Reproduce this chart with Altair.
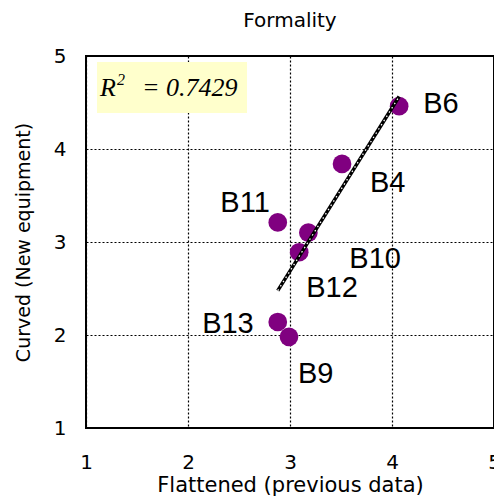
import altair as alt
import pandas as pd

names = ["B6", "B4", "B11", "B10", "B12", "B13", "B9"]
flattened = [4.07, 3.51, 2.88, 3.18, 3.09, 2.88, 2.99]
curved = [4.46, 3.84, 3.21, 3.10, 2.89, 2.14, 1.98]
r2_value = "= 0.7429"

df = pd.DataFrame({"name": names, "x": flattened, "y": curved})

FONT = "DejaVu Sans"
LFONT = "Liberation Sans"
SERIF = "Liberation Serif"
xs = alt.Scale(domain=[1, 5], nice=False, zero=False)
ys = alt.Scale(domain=[1, 5], nice=False, zero=False)

common_axis = dict(values=[1, 2, 3, 4, 5], format="d", grid=True, gridDash=[2, 2],
                   gridColor="black", gridOpacity=1, gridWidth=1.2,
                   ticks=False, domain=False,
                   labelFontSize=20, labelFont=FONT,
                   titleFont=FONT, titleFontWeight="normal",
                   labelColor="black", titleColor="black", labelFlush=False)

xenc = alt.X("x:Q", scale=xs, title="Flattened (previous data)",
             axis=alt.Axis(labelPadding=24, titlePadding=2, titleFontSize=21, **common_axis))
yenc = alt.Y("y:Q", scale=ys, title="Curved (New equipment)",
             axis=alt.Axis(labelPadding=20, titlePadding=20, titleFontSize=19, **common_axis))

base = alt.Chart(df)
one = lambda c: c.transform_filter(alt.datum.name == "B6")

box = one(base.mark_rect(color="#FFFFCC").encode(
    x=alt.value(11), x2=alt.value(161), y=alt.value(6), y2=alt.value(57)))

r_txt = one(base.mark_text(font=SERIF, fontStyle="italic", fontSize=26,
                           align="left", baseline="alphabetic", color="black").encode(
    x=alt.value(14), y=alt.value(40), text=alt.value("R")))
sup_txt = one(base.mark_text(font=SERIF, fontStyle="italic", fontSize=16,
                             align="left", baseline="alphabetic", color="black").encode(
    x=alt.value(31), y=alt.value(29), text=alt.value("2")))
val_txt = one(base.mark_text(font=SERIF, fontStyle="italic", fontSize=26,
                             align="left", baseline="alphabetic", color="black").encode(
    x=alt.value(56), y=alt.value(40), text=alt.value(r2_value)))

fit_black = base.mark_line(color="black", strokeWidth=3.5).encode(
    x=alt.X("x:Q", scale=xs), y=alt.Y("y:Q", scale=ys)
).transform_regression("x", "y")
fit_white = base.mark_line(color="white", strokeWidth=1.3, strokeDash=[1.5, 3.5]).encode(
    x=alt.X("x:Q", scale=xs), y=alt.Y("y:Q", scale=ys)
).transform_regression("x", "y")

points = base.mark_circle(size=350, color="#800080", opacity=1).encode(x=xenc, y=yenc)

offsets = {
    "B6": (24, -2, "left"),
    "B4": (28, 19, "left"),
    "B11": (-8, -19, "right"),
    "B10": (41, 26, "left"),
    "B12": (7, 36, "left"),
    "B13": (-24, 2, "right"),
    "B9": (9, 37, "left"),
}
labels = []
for n, (dx, dy, al) in offsets.items():
    labels.append(
        base.mark_text(font=LFONT, fontSize=29, dx=dx, dy=dy, align=al,
                       baseline="middle", color="black").encode(
            x=alt.X("x:Q", scale=xs), y=alt.Y("y:Q", scale=ys), text="name:N"
        ).transform_filter(alt.datum.name == n)
    )

chart = alt.layer(points, box, r_txt, sup_txt, val_txt, fit_black, fit_white, *labels).properties(
    width=408, height=372,
    title=alt.TitleParams("Formality", font=FONT, fontSize=20, fontWeight="normal",
                          color="black", offset=15),
    autosize=alt.AutoSizeParams(type="none"),
    padding={"left": 78, "top": 48, "right": 0, "bottom": 74},
).configure_view(stroke="black", strokeWidth=2)

chart.save("out.html", embed_options={"renderer": "svg", "actions": False})
